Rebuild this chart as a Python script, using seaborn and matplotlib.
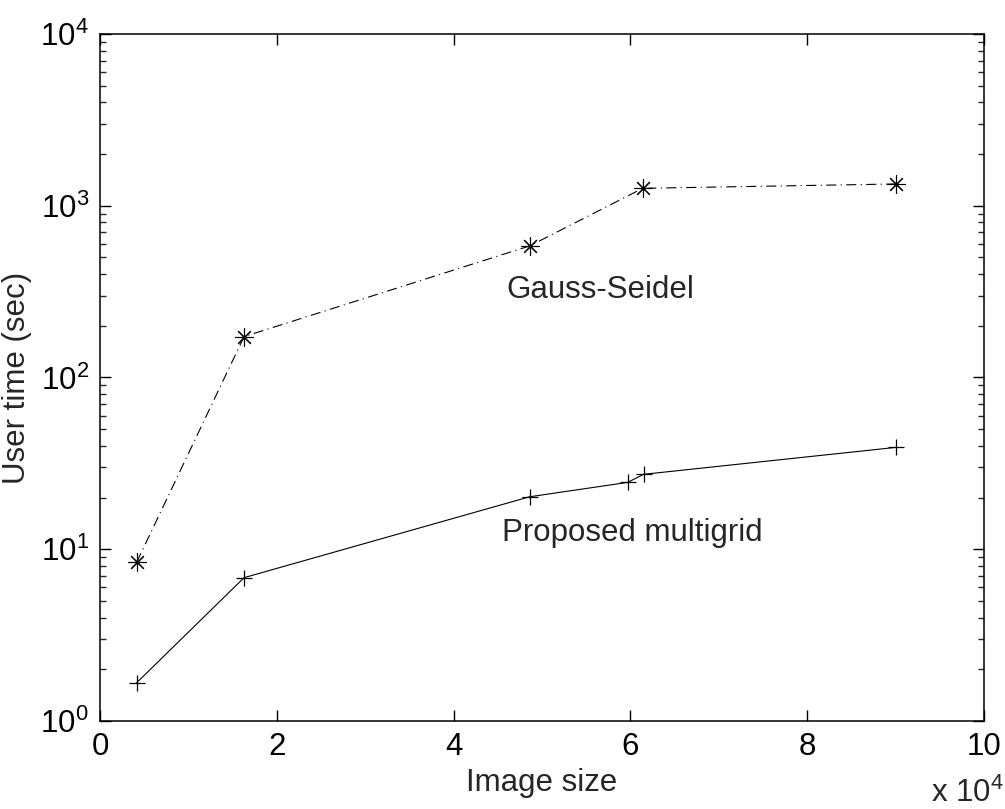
import matplotlib
matplotlib.use("Agg")
import matplotlib.pyplot as plt
import seaborn as sns
import pandas as pd
from matplotlib.ticker import FixedLocator, LogLocator, NullFormatter, FuncFormatter

# ---- data (image size in pixels, user time in seconds) ----
gs_size = [4150, 16300, 48600, 61400, 90100]
gs_time = [8.4, 173, 583, 1263, 1339]
mg_size = [4150, 16300, 48600, 59700, 61500, 90100]
mg_time = [1.67, 6.83, 20.2, 24.5, 27.3, 39.2]
x_ticks = [0, 20000, 40000, 60000, 80000, 100000]
label_gs = "Gauss-Seidel"
label_mg = "Proposed multigrid"
xlabel = "Image size"
ylabel = "User time (sec)"

FS = 22.5

sns.set_style("ticks")
plt.rcParams["font.family"] = ["Liberation Sans", "DejaVu Sans"]
plt.rcParams["mathtext.default"] = "regular"

fig = plt.figure(figsize=(10.05, 8.09), dpi=100)
ax = fig.add_axes([0.0995, 0.1088, 0.8795, 0.8492])

df_gs = pd.DataFrame({"size": gs_size, "time": gs_time})
df_mg = pd.DataFrame({"size": mg_size, "time": mg_time})

sns.lineplot(data=df_gs, x="size", y="time", ax=ax, color="black",
             estimator=None, sort=False, marker=(8, 2, 0), markersize=13,
             markeredgecolor="black", markeredgewidth=0.8,
             linewidth=0.8, linestyle=(0, (9, 4, 1, 4)))
sns.lineplot(data=df_mg, x="size", y="time", ax=ax, color="black",
             estimator=None, sort=False, marker="+", markersize=11,
             markeredgecolor="black", markeredgewidth=0.9,
             linewidth=0.8, linestyle="-")

ax.set_yscale("log")
ax.set_xlim(0, 100000)
ax.set_ylim(1, 10000)

ax.xaxis.set_major_locator(FixedLocator(x_ticks))
ax.xaxis.set_major_formatter(FuncFormatter(lambda v, p: f"{v/1e4:g}"))
ax.yaxis.set_major_locator(LogLocator(base=10, numticks=10))
ax.yaxis.set_minor_locator(LogLocator(base=10, subs=range(2, 10), numticks=20))
ax.yaxis.set_minor_formatter(NullFormatter())

ax.tick_params(axis="both", which="major", direction="in", length=8, width=1.0,
               top=True, right=True, labelsize=FS, pad=8, colors="black")
ax.tick_params(axis="y", which="minor", direction="in", length=4.5, width=1.0,
               right=True, left=True)
for s in ax.spines.values():
    s.set_linewidth(1.1)
    s.set_color("black")

ax.set_xlabel(xlabel, fontsize=FS, labelpad=4)
ax.set_ylabel(ylabel, fontsize=FS, labelpad=6)

ax.text(46000, 323, label_gs, fontsize=FS, ha="left", va="center")
ax.text(45500, 12.4, label_mg, fontsize=FS, ha="left", va="center")

fig.text(0.999, 0.0, r"x 10$^{4}$", fontsize=FS, ha="right", va="bottom")

fig.savefig("out.png", dpi=100, facecolor="white")
